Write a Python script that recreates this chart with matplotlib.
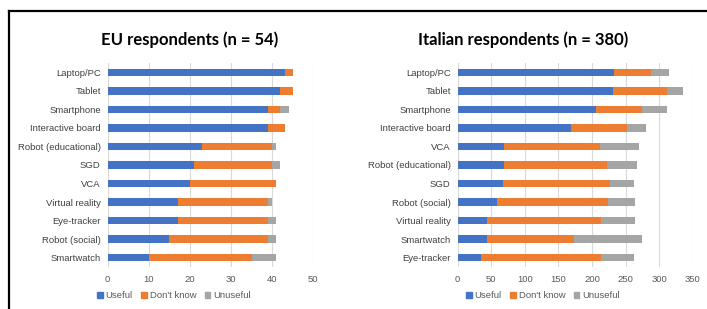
import numpy as np
import matplotlib
matplotlib.use('Agg')
import matplotlib.pyplot as plt
from matplotlib.lines import Line2D
from matplotlib.patches import Patch

# EU respondents (n = 54)
eu_labels = ['Laptop/PC', 'Tablet', 'Smartphone', 'Interactive board', 'Robot (educational)',
             'SGD', 'VCA', 'Virtual reality', 'Eye-tracker', 'Robot (social)', 'Smartwatch']
eu_useful = [43, 42, 39, 39, 23, 21, 20, 17, 17, 15, 10]
eu_dontknow = [2, 3, 3, 4, 17, 19, 21, 22, 22, 24, 25]
eu_unuseful = [0, 0, 2, 0, 1, 2, 0, 1, 2, 2, 6]

# Italian respondents (n = 380)
it_labels = ['Laptop/PC', 'Tablet', 'Smartphone', 'Interactive board', 'VCA',
             'Robot (educational)', 'SGD', 'Robot (social)', 'Virtual reality', 'Smartwatch', 'Eye-tracker']
it_useful = [233, 232, 206, 168, 69, 69, 68, 59, 44, 43, 34]
it_dontknow = [55, 79, 68, 84, 143, 154, 159, 165, 169, 130, 179]
it_unuseful = [27, 24, 37, 28, 58, 44, 36, 40, 51, 102, 50]

series_names = ['Useful', "Don't know", 'Unuseful']
colors = ['#4472C4', '#ED7D31', '#A5A5A5']

W, H = 707, 309
fig = plt.figure(figsize=(W / 100, H / 100), dpi=100)
plt.rcParams['font.family'] = ['Liberation Sans', 'DejaVu Sans']

def draw(ax_rect, labels, useful, dk, unuseful, xmax, step, title, title_x, leg_x):
    ax = fig.add_axes(ax_rect)
    y = np.arange(len(labels))
    u = np.array(useful)
    d = np.array(dk)
    g = np.array(unuseful)
    ax.barh(y, u, height=0.4, color=colors[0], zorder=3)
    ax.barh(y, d, left=u, height=0.4, color=colors[1], zorder=3)
    ax.barh(y, g, left=u + d, height=0.4, color=colors[2], zorder=3)
    ax.set_xlim(0, xmax)
    ax.set_ylim(len(labels) - 0.5, -0.5)
    ax.set_yticks(y)
    ax.set_yticklabels(labels, fontsize=6.8, color='#404040')
    ax.set_xticks(np.arange(0, xmax + 1, step))
    ax.tick_params(axis='x', labelsize=6.8, labelcolor='#595959', length=0, pad=6)
    ax.tick_params(axis='y', length=0, pad=5)
    ax.grid(axis='x', color='#D9D9D9', linewidth=0.8, zorder=0)
    for s in ax.spines.values():
        s.set_visible(False)
    fig.text(title_x / W, 1 - 40 / H, title, ha='center', va='center',
             fontsize=12, fontweight='bold', family='Lato', color='black')
    handles = [Patch(color=c) for c in colors]
    fig.legend(handles, series_names, loc='center left',
               bbox_to_anchor=(leg_x / W, 1 - 296 / H), ncol=3, frameon=False,
               fontsize=6.8, handlelength=0.6, handleheight=0.6, handletextpad=0.3,
               columnspacing=0.9, labelcolor='#595959', borderaxespad=0, borderpad=0)
    return ax

top, bot = 63, 267
draw([107.7 / W, 1 - bot / H, (313.3 - 107.7) / W, (bot - top) / H],
     eu_labels, eu_useful, eu_dontknow, eu_unuseful, 50, 10,
     'EU respondents (n = 54)', 190, 97)
draw([457.7 / W, 1 - bot / H, (692.7 - 457.7) / W, (bot - top) / H],
     it_labels, it_useful, it_dontknow, it_unuseful, 350, 50,
     'Italian respondents (n = 380)', 523, 466)

# frame lines
fig.add_artist(Line2D([8.5 / W, 1], [1 - 10.5 / H, 1 - 10.5 / H], color='black', lw=1.6,
                      transform=fig.transFigure))
fig.add_artist(Line2D([8.5 / W, 8.5 / W], [0, 1 - 10.5 / H], color='black', lw=1.6,
                      transform=fig.transFigure))

fig.savefig('out.png', dpi=100)
